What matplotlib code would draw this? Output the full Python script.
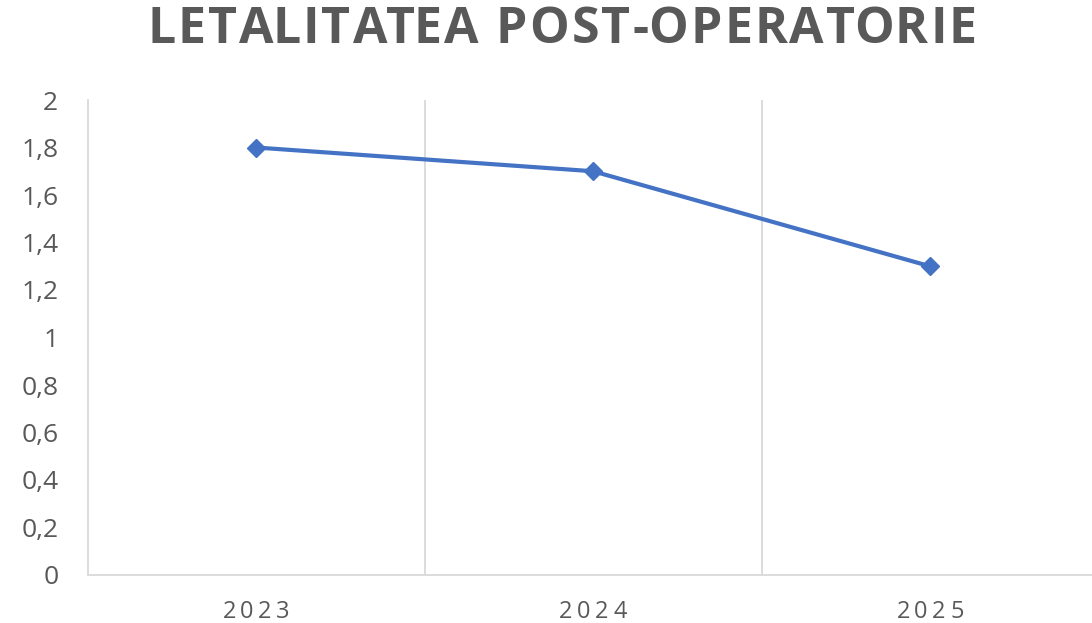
import matplotlib
matplotlib.use("Agg")
import matplotlib.pyplot as plt
from matplotlib.ticker import FixedLocator
from matplotlib.font_manager import FontProperties

categories = ["2023", "2024", "2025"]
values = [1.8, 1.7, 1.3]
yticks = [0, 0.2, 0.4, 0.6, 0.8, 1, 1.2, 1.4, 1.6, 1.8, 2]
title = "LETALITATEA POST-OPERATORIE"

plt.rcParams['font.family'] = ['Open Sans', 'DejaVu Sans']

W, H = 1092, 623
fig = plt.figure(figsize=(W / 100, H / 100), dpi=100)
ax = fig.add_axes([87.5 / W, 48 / H, 1011 / W, 475 / H])
renderer = fig.canvas.get_renderer()


def tracked_text(x_px, y_px, s, tracking, size, weight='normal', color='#595959'):
    """Draw string centred at (x_px, y_px) in figure pixels with extra letter spacing."""
    prop = FontProperties(family=['Open Sans', 'DejaVu Sans'], size=size, weight=weight)
    def w(t):
        if not t:
            return 0.0
        return renderer.get_text_width_height_descent(t, prop, ismath=False)[0]
    total = w(s) + tracking * (len(s) - 1)
    x0 = x_px - total / 2
    for i, ch in enumerate(s):
        xi = x0 + w(s[:i]) + tracking * i
        fig.text(xi / W, y_px / H, ch, ha='left', va='center', fontproperties=prop,
                 color=color)


x = list(range(len(categories)))
ax.plot(x, values, color='#4472C4', linewidth=3, marker='D', markersize=9,
        solid_capstyle='round', zorder=3)

ax.set_xlim(-0.5, len(categories) - 0.5)
ax.set_ylim(0, 2)
ax.set_yticks(yticks)
ax.set_yticklabels([f"{t:g}".replace('.', ',') for t in yticks])
ax.set_xticks(x)
ax.set_xticklabels([])
ax.xaxis.set_minor_locator(FixedLocator([i + 0.5 for i in x[:-1]]))
ax.grid(True, which='minor', axis='x', color='#D9D9D9', linewidth=1.3)
ax.tick_params(axis='both', which='both', length=0)
ax.tick_params(axis='y', labelsize=19, colors='#595959', pad=21)
for s in ['top', 'right']:
    ax.spines[s].set_visible(False)
for s in ['left', 'bottom']:
    ax.spines[s].set_color('#D9D9D9')
    ax.spines[s].set_linewidth(1.3)

# category labels with letter spacing, positioned via the axes' data transform
for xi, cat in zip(x, categories):
    px = ax.transData.transform((xi, 0))[0]
    tracked_text(px, 48 - 37, cat, 4.5, 17)

tracked_text(562, H - 30, title, 2.2, 36, weight='bold')

fig.savefig('out.png', dpi=100)
